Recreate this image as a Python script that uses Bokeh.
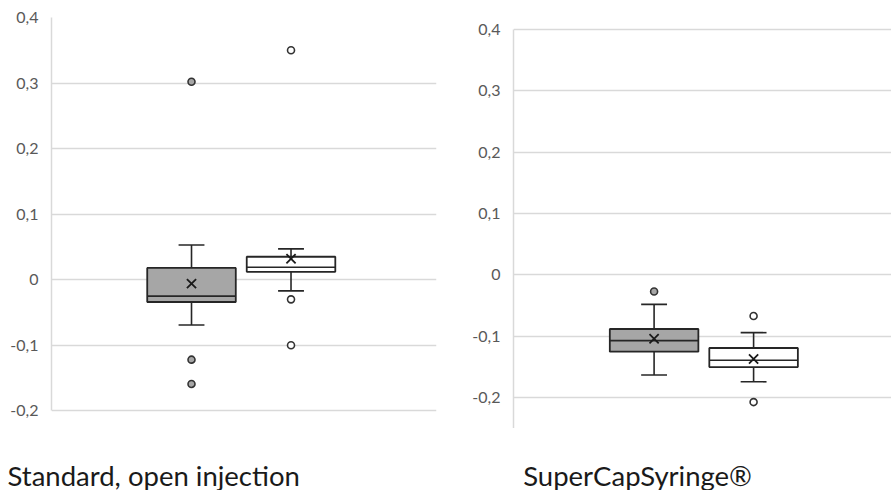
from bokeh.plotting import figure
from bokeh.models import Range1d, FixedTicker
from bokeh.layouts import row, column
from bokeh.core.properties import value
from bokeh.embed import file_html
from bokeh.resources import INLINE

# ---------------- data ----------------
series_index = [0, 1]
series_fill = ["#a6a6a6", "#ffffff"]
tick_values = [-0.2, -0.1, 0.0, 0.1, 0.2, 0.3, 0.4]
tick_labels = ["-0,2", "-0,1", "0", "0,1", "0,2", "0,3", "0,4"]
captions = ["Standard, open injection", "SuperCapSyringe®"]

std_lower = [-0.069, -0.017]
std_q1 = [-0.034, 0.012]
std_median = [-0.025, 0.019]
std_q3 = [0.018, 0.035]
std_upper = [0.053, 0.047]
std_mean = [-0.006, 0.032]
std_outliers_gray = [0.302, -0.122, -0.159]
std_outliers_white = [0.350, -0.030, -0.100]

scs_lower = [-0.163, -0.174]
scs_q1 = [-0.125, -0.150]
scs_median = [-0.107, -0.139]
scs_q3 = [-0.088, -0.119]
scs_upper = [-0.048, -0.094]
scs_mean = [-0.104, -0.137]
scs_outliers_gray = [-0.027]
scs_outliers_white = [-0.067, -0.207]

FONT = "Lato"
BOX_W = 0.89
CAP_W = 0.26
LINE = "#262626"


def make_panel(frame_w, borders, x_rng, y_rng, axis_bounds, lower, q1, med, q3, upper,
               mean, out_gray, out_white):
    p = figure(frame_width=frame_w, frame_height=411, output_backend="svg",
               toolbar_location=None,
               x_range=Range1d(*x_rng), y_range=Range1d(*y_rng),
               min_border_left=borders[0], min_border_right=borders[1],
               min_border_top=17, min_border_bottom=0)
    p.title = None
    p.outline_line_color = None
    p.background_fill_color = "white"
    p.border_fill_color = "white"
    p.xaxis.visible = False
    p.xgrid.visible = False
    p.ygrid.grid_line_color = "#d9d9d9"
    p.ygrid.grid_line_width = 1.5
    p.ygrid.ticker = FixedTicker(ticks=tick_values)
    ax = p.yaxis[0]
    ax.ticker = FixedTicker(ticks=tick_values)
    ax.bounds = axis_bounds
    ax.major_label_overrides = {v: l for v, l in zip(tick_values, tick_labels)}
    ax.axis_line_color = "#d9d9d9"
    ax.axis_line_width = 1.5
    ax.major_tick_line_color = None
    ax.minor_tick_line_color = None
    ax.major_tick_out = 0
    ax.major_tick_in = 0
    ax.minor_tick_out = 0
    ax.major_label_standoff = 13
    ax.major_label_text_font = FONT
    ax.major_label_text_font_size = "16px"
    ax.major_label_text_color = "#595959"

    hw = BOX_W / 2
    cw = CAP_W / 2
    xs = series_index
    p.segment(x0=xs, x1=xs, y0=q3, y1=upper, line_color=LINE, line_width=1.6)
    p.segment(x0=xs, x1=xs, y0=q1, y1=lower, line_color=LINE, line_width=1.6)
    p.segment(x0=[x - cw for x in xs], x1=[x + cw for x in xs], y0=upper, y1=upper,
              line_color=LINE, line_width=1.6)
    p.segment(x0=[x - cw for x in xs], x1=[x + cw for x in xs], y0=lower, y1=lower,
              line_color=LINE, line_width=1.6)
    p.vbar(x=xs, width=BOX_W, bottom=q1, top=q3, fill_color=series_fill,
           line_color=LINE, line_width=1.8)
    p.segment(x0=[x - hw for x in xs], x1=[x + hw for x in xs], y0=med, y1=med,
              line_color=LINE, line_width=1.6)
    p.scatter(x=xs, y=mean, marker="x", size=13, line_color="#1a1a1a", line_width=1.8)
    p.scatter(x=[xs[0]] * len(out_gray), y=out_gray, marker="circle", size=7,
              fill_color=series_fill[0], line_color="#333333", line_width=1.6)
    p.scatter(x=[xs[1]] * len(out_white), y=out_white, marker="circle", size=7,
              fill_color=series_fill[1], line_color="#333333", line_width=1.6)
    return p


left = make_panel(385, (51, 32), (-1.407, 2.462), (-0.227, 0.4), (-0.2, 0.4),
                  std_lower, std_q1, std_median, std_q3, std_upper, std_mean,
                  std_outliers_gray, std_outliers_white)
right = make_panel(378, (45, 0), (-1.413, 2.386), (-0.25, 0.419), (-0.25, 0.4),
                   scs_lower, scs_q1, scs_median, scs_q3, scs_upper, scs_mean,
                   scs_outliers_gray, scs_outliers_white)

cap = figure(frame_width=891, frame_height=62, output_backend="svg",
             toolbar_location=None, x_range=Range1d(0, 891), y_range=Range1d(0, 62),
             min_border=0)
cap.title = None
cap.axis.visible = False
cap.grid.visible = False
cap.outline_line_color = None
cap.text(x=[7, 522.7], y=[15, 15], text=captions, text_font=value(FONT),
         text_font_size="27.5px", text_color="#1a1a1a", text_align="left",
         text_baseline="alphabetic")

layout = column(row(left, right), cap)
open("out.html", "w").write(file_html(layout, INLINE))
